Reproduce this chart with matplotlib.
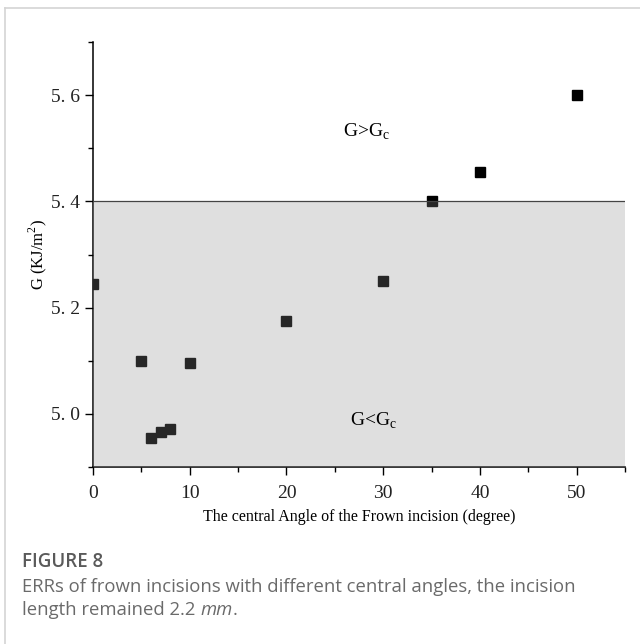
import matplotlib
matplotlib.use("Agg")
import matplotlib.pyplot as plt
from matplotlib.lines import Line2D
from matplotlib.ticker import MultipleLocator, FixedLocator

# data
angles = [0, 5, 6, 7, 8, 10, 20, 30, 35, 40, 50]
G_vals = [5.244, 5.100, 4.955, 4.966, 4.971, 5.095, 5.175, 5.250, 5.400, 5.455, 5.600]
G_c = 5.4
x_ticks = [0, 10, 20, 30, 40, 50]
y_ticks = [5.0, 5.2, 5.4, 5.6]
y_tick_labels = ["5. 0", "5. 2", "5. 4", "5. 6"]

serif = "Liberation Serif"

fig = plt.figure(figsize=(6.40, 6.44), dpi=100)
ax = fig.add_axes([93 / 640, 1 - 467 / 644, 532 / 640, 425 / 644])

ax.plot(angles, G_vals, linestyle="none", marker="s", ms=7, color="black", zorder=2)

# shaded region below G_c (drawn over the markers, semi transparent)
ax.fill_between([0, 55], 4.9, G_c, color=(0.56, 0.56, 0.56), alpha=0.28, lw=0, zorder=3)
ax.axhline(G_c, color="#444444", lw=0.9, zorder=4)

ax.text(28.3, 5.53, r"G>G$_\mathregular{c}$", family=serif, fontsize=14, ha="center", va="center")
ax.text(29.0, 4.987, r"G<G$_\mathregular{c}$", family=serif, fontsize=14, ha="center", va="center", zorder=5)

ax.set_xlim(0, 55)
ax.set_ylim(4.9, 5.7)
ax.xaxis.set_major_locator(FixedLocator(x_ticks))
ax.xaxis.set_minor_locator(MultipleLocator(5))
ax.yaxis.set_major_locator(FixedLocator(y_ticks))
ax.yaxis.set_minor_locator(MultipleLocator(0.1))
ax.set_yticklabels(y_tick_labels)
ax.tick_params(which="major", direction="out", length=6, width=1.0, labelsize=14)
ax.tick_params(axis="x", which="major", pad=7)
ax.tick_params(which="minor", direction="out", length=3.5, width=1.0)
for lab in ax.get_xticklabels() + ax.get_yticklabels():
    lab.set_family(serif)
    lab.set_color("#222222")

for s in ["top", "right"]:
    ax.spines[s].set_visible(False)
for s in ["left", "bottom"]:
    ax.spines[s].set_linewidth(1.1)

ax.set_xlabel("The central Angle of the Frown incision (degree)", family=serif, fontsize=11.5, labelpad=5)
ax.set_ylabel(r"G (KJ/m$^\mathregular{2}$)", family=serif, fontsize=12, labelpad=1)

# card frame
fig.add_artist(Line2D([5 / 640, 1.0], [1 - 8 / 644, 1 - 8 / 644], color="#d4d4d4", lw=1.2))
fig.add_artist(Line2D([5 / 640, 5 / 640], [0, 1 - 8 / 644], color="#d4d4d4", lw=1.2))

# caption
cap = "Open Sans"
fig.text(22 / 640, 1 - 562 / 644, "FIGURE 8", family=cap, fontsize=13.5, weight="semibold",
         color="#5a5a5a", va="center")
fig.text(22 / 640, 1 - 587 / 644, "ERRs of frown incisions with different central angles, the incision",
         family=cap, fontsize=13.3, color="#6a6a6a", va="center")
t1 = fig.text(22 / 640, 1 - 610 / 644, "length remained 2.2 ", family=cap, fontsize=13.3,
              color="#6a6a6a", va="center")
fig.canvas.draw()
r = fig.canvas.get_renderer()
bb = t1.get_window_extent(r)
t2 = fig.text(bb.x1 / fig.bbox.width, 1 - 610 / 644, "mm", family=cap, style="italic",
              fontsize=13.3, color="#6a6a6a", va="center")
bb2 = t2.get_window_extent(r)
fig.text(bb2.x1 / fig.bbox.width, 1 - 610 / 644, ".", family=cap, fontsize=13.3,
         color="#6a6a6a", va="center")

fig.savefig("out.png", dpi=100, facecolor="white")
